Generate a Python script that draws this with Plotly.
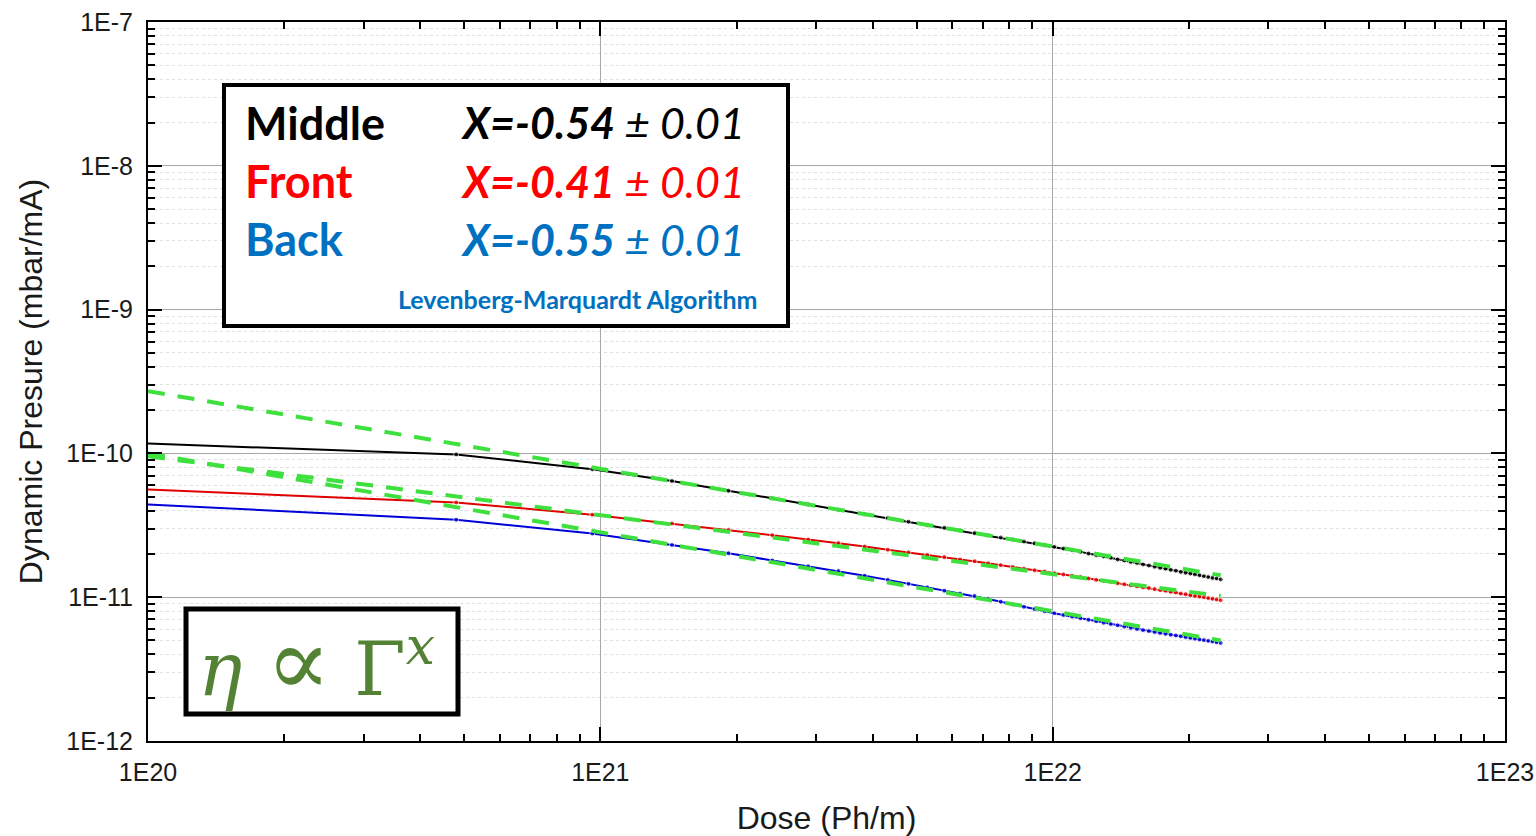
import plotly.graph_objects as go

# ---------------- data ----------------
# Dose in units of 1e20 Ph/m
dose_e20 = [1.0, 4.8, 9.6, 14.4, 19.2, 24.0, 28.8, 33.6, 38.4, 43.2, 48.0,
            52.8, 57.6, 62.4, 67.2, 72.0, 76.8, 81.6, 86.4, 91.2, 96.0,
            100.8, 105.6, 110.4, 115.2, 120.0, 124.8, 129.6, 134.4, 139.2, 144.0,
            148.8, 153.6, 158.4, 163.2, 168.0, 172.8, 177.6, 182.4, 187.2, 192.0,
            196.8, 201.6, 206.4, 211.2, 216.0, 220.8, 225.6, 230.4, 235.2]

# Dynamic pressure in units of 1e-11 mbar/mA
middle_e11 = [11.7, 9.84, 7.76, 6.43, 5.50, 4.87, 4.42, 4.06, 3.78, 3.55, 3.35,
              3.18, 3.04, 2.91, 2.79, 2.69, 2.60, 2.52, 2.44, 2.37, 2.31,
              2.24, 2.18, 2.12, 2.07, 2.01, 1.96, 1.92, 1.88, 1.83, 1.80,
              1.76, 1.73, 1.69, 1.66, 1.63, 1.60, 1.58, 1.55, 1.53, 1.50,
              1.48, 1.46, 1.44, 1.42, 1.40, 1.38, 1.36, 1.35, 1.33]
front_e11 = [5.62, 4.56, 3.75, 3.26, 2.94, 2.70, 2.52, 2.38, 2.25, 2.14, 2.05,
             1.97, 1.90, 1.83, 1.78, 1.72, 1.67, 1.62, 1.58, 1.54, 1.51,
             1.47, 1.44, 1.41, 1.38, 1.35, 1.32, 1.30, 1.28, 1.25, 1.23,
             1.21, 1.19, 1.17, 1.16, 1.14, 1.12, 1.11, 1.09, 1.08, 1.06,
             1.05, 1.03, 1.02, 1.01, 1.00, 0.986, 0.975, 0.964, 0.953]
back_e11 = [4.42, 3.46, 2.77, 2.31, 2.02, 1.80, 1.64, 1.52, 1.41, 1.32, 1.24,
            1.17, 1.11, 1.06, 1.02, 0.971, 0.930, 0.891, 0.857, 0.826, 0.798,
            0.773, 0.752, 0.732, 0.714, 0.697, 0.680, 0.664, 0.650, 0.637, 0.624,
            0.611, 0.600, 0.590, 0.581, 0.573, 0.564, 0.556, 0.548, 0.542, 0.535,
            0.527, 0.521, 0.514, 0.508, 0.503, 0.497, 0.492, 0.486, 0.481]

# Power-law fits (straight lines in log-log): end points
fit_dose_e20 = [1.0, 235.2]
fit_middle_e11 = [27.1, 1.42]
fit_front_e11 = [9.55, 1.02]
fit_back_e11 = [10.0, 0.50]

x_tick_vals = [1e20, 1e21, 1e22, 1e23]
x_tick_text = ["1E20", "1E21", "1E22", "1E23"]
y_tick_vals = [1e-12, 1e-11, 1e-10, 1e-9, 1e-8, 1e-7]
y_tick_text = ["1E-12", "1E-11", "1E-10", "1E-9", "1E-8", "1E-7"]

legend_names = ["Middle", "Front", "Back"]
legend_exps = ["X=-0.54", "X=-0.41", "X=-0.55"]
legend_err = ["± 0.01", "± 0.01", "± 0.01"]
method_text = "Levenberg-Marquardt Algorithm"

# ---------------- styling ----------------
W, H = 1536, 836
ML, MR, MT, MB = 148, 31, 22, 95
PW, PH = W - ML - MR, H - MT - MB

def px(xp):
    return (xp - ML) / PW

def py(yp):
    return (H - MB - yp) / PH

GREEN = "#3ee03e"
text_colors = ["#000000", "#ff0000", "#0070c0"]
line_colors = ["#000000", "#e00000", "#0000d8"]

dose = [d * 1e20 for d in dose_e20]
fit_dose = [d * 1e20 for d in fit_dose_e20]
series = [middle_e11, front_e11, back_e11]
fits = [fit_middle_e11, fit_front_e11, fit_back_e11]

fig = go.Figure()

for name, vals, col in zip(legend_names, series, line_colors):
    sizes = [0] + [5] * (len(vals) - 1)
    fig.add_trace(go.Scatter(
        x=dose, y=[v * 1e-11 for v in vals], mode="lines+markers", name=name,
        line=dict(color=col, width=2),
        marker=dict(color=col, size=sizes, symbol="circle"),
        showlegend=False))

for name, vals in zip(legend_names, fits):
    fig.add_trace(go.Scatter(
        x=fit_dose, y=[v * 1e-11 for v in vals], mode="lines", name=name + " fit",
        line=dict(color=GREEN, width=4, dash="17px,13px"),
        showlegend=False))

minor_x = [float(m) * 10.0 ** e for e in range(20, 23) for m in range(2, 10)]
minor_y = [float(m) * 10.0 ** e for e in range(-12, -7) for m in range(2, 10)]

axis_common = dict(
    type="log", showline=True, linewidth=2, linecolor="black", mirror="allticks",
    ticks="inside", ticklen=14, tickwidth=2, tickcolor="black",
    showgrid=True, gridcolor="#a8a8a8", gridwidth=1, zeroline=False,
    tickfont=dict(family="Liberation Sans, Arial", size=25, color="#1a1a1a"),
    ticklabelstandoff=8, automargin=False,
)

fig.update_xaxes(
    **axis_common, range=[20, 23], tickmode="array",
    tickvals=x_tick_vals, ticktext=x_tick_text,
    minor=dict(tickmode="array", tickvals=minor_x, ticks="inside", ticklen=7,
               tickwidth=2, tickcolor="black", showgrid=False),
    title=dict(text="Dose (Ph/m)", standoff=26,
               font=dict(family="Liberation Sans, Arial", size=32, color="#1a1a1a")),
)
fig.update_yaxes(
    **axis_common, range=[-12, -7], tickmode="array",
    tickvals=y_tick_vals, ticktext=y_tick_text,
    minor=dict(tickmode="array", tickvals=minor_y, ticks="inside", ticklen=7,
               tickwidth=2, tickcolor="black", showgrid=True,
               gridcolor="#e0e0e0", gridwidth=1, griddash="3px,3px"),
    title=dict(text="Dynamic Presure (mbar/mA)", standoff=14,
               font=dict(family="Liberation Sans, Arial", size=32, color="#1a1a1a")),
)

shapes = [
    dict(type="rect", xref="paper", yref="paper",
         x0=px(224), x1=px(788), y0=py(326), y1=py(85),
         line=dict(color="black", width=4), fillcolor="white", layer="above"),
    dict(type="rect", xref="paper", yref="paper",
         x0=px(186), x1=px(458), y0=py(714), y1=py(609),
         line=dict(color="black", width=5), fillcolor="white", layer="above"),
]

LEG_FONT = "Lato, Open Sans, sans-serif"
annotations = []
row_y = [123, 181, 239]
for i in range(3):
    annotations.append(dict(
        xref="paper", yref="paper", x=px(243), y=py(row_y[i]),
        xanchor="left", yanchor="middle", showarrow=False,
        text="<b>%s</b>" % legend_names[i],
        font=dict(family=LEG_FONT, size=45, color=text_colors[i])))
    annotations.append(dict(
        xref="paper", yref="paper", x=px(747), y=py(row_y[i]),
        xanchor="right", yanchor="middle", showarrow=False,
        text="<b><i>%s</i></b><i> %s</i>" % (legend_exps[i], legend_err[i]),
        font=dict(family=LEG_FONT, size=43, color=text_colors[i])))
annotations.append(dict(
    xref="paper", yref="paper", x=px(577), y=py(299),
    xanchor="center", yanchor="middle", showarrow=False,
    text="<b>%s</b>" % method_text,
    font=dict(family=LEG_FONT, size=25, color="#0070c0")))
annotations.append(dict(
    xref="paper", yref="paper", x=px(316), y=py(662),
    xanchor="center", yanchor="middle", showarrow=False,
    text="<i>η</i> <span style='font-size:96px'>∝</span> Γ<sup><i>x</i></sup>",
    font=dict(family="DejaVu Serif, Liberation Serif, serif", size=74, color="#548235")))

fig.update_layout(
    width=W, height=H,
    margin=dict(l=ML, r=MR, t=MT, b=MB),
    paper_bgcolor="white", plot_bgcolor="white",
    shapes=shapes, annotations=annotations,
    showlegend=False,
)

fig.write_html("out.html")
